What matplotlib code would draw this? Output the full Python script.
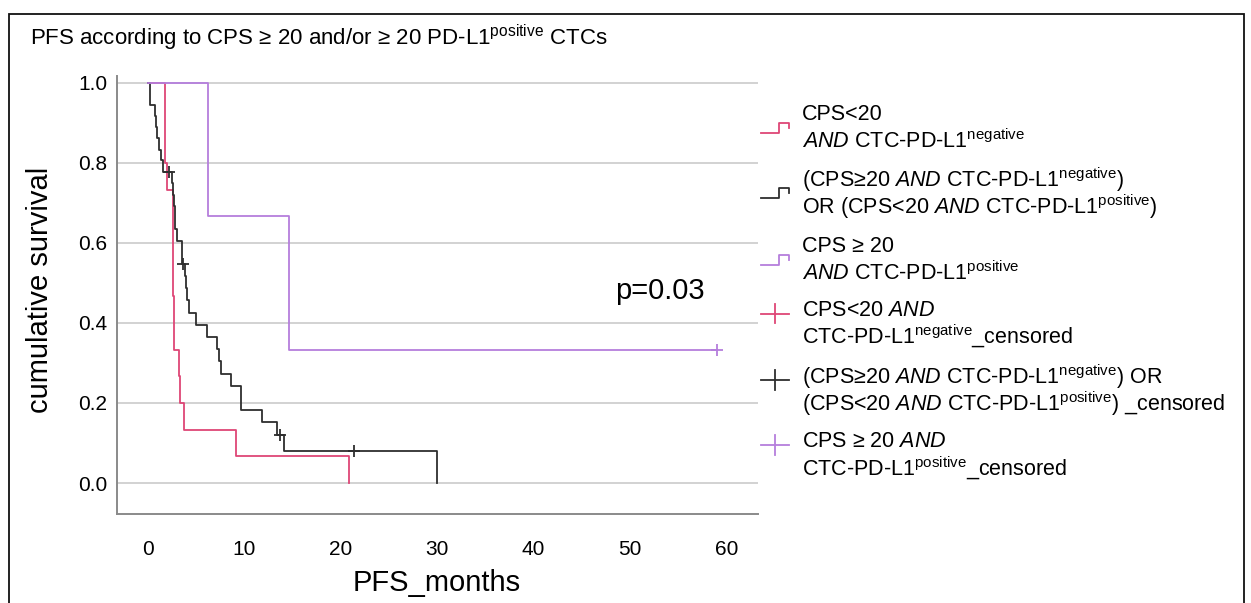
import matplotlib
matplotlib.use("Agg")
import matplotlib.pyplot as plt
from matplotlib.lines import Line2D
from matplotlib.patches import Rectangle

plt.rcParams['font.family'] = ['Liberation Sans', 'DejaVu Sans']
plt.rcParams['mathtext.fontset'] = 'custom'
plt.rcParams['mathtext.rm'] = 'Liberation Sans'
plt.rcParams['mathtext.it'] = 'Liberation Sans:italic'
plt.rcParams['mathtext.bf'] = 'Liberation Sans:bold'

# Kaplan-Meier step curves (time in months, survival)
red_t = [0, 1.77, 1.94, 2.55, 2.73, 3.25, 3.32, 3.77, 9.1, 20.9]
red_s = [1.0, 0.800, 0.733, 0.467, 0.333, 0.267, 0.200, 0.133, 0.067, 0.0]

black_t = [0, 0.2, 0.75, 0.85, 0.95, 1.1, 1.3, 1.55, 2.45, 2.6, 2.7, 2.8,
           2.85, 3.05, 3.5, 3.55, 3.85, 3.95, 4.05, 4.2, 5.0, 6.1, 7.15,
           7.4, 7.55, 8.6, 9.65, 11.8, 13.35, 14.15, 30.0]
black_s = [1.0, 0.944, 0.917, 0.889, 0.861, 0.833, 0.806, 0.778, 0.749,
           0.720, 0.691, 0.663, 0.634, 0.605, 0.576, 0.547, 0.517, 0.486,
           0.456, 0.425, 0.395, 0.365, 0.334, 0.304, 0.273, 0.243, 0.182,
           0.152, 0.121, 0.081, 0.0]

purple_t = [0, 6.2, 14.6, 59.0]
purple_s = [1.0, 0.667, 0.333, 0.333]

# censored observations
black_cens_t = [2.2, 3.6, 13.65, 21.4]
black_cens_s = [0.778, 0.547, 0.121, 0.081]
purple_cens_t = [59.0]
purple_cens_s = [0.333]

RED = '#de4676'
BLACK = '#2e2e2e'
PURPLE = '#b57edc'

yticks = [0.0, 0.2, 0.4, 0.6, 0.8, 1.0]
xticks = [0, 10, 20, 30, 40, 50, 60]

W, H = 1251, 603
fig = plt.figure(figsize=(W / 100, H / 100), dpi=100)
ax = fig.add_axes([117 / W, 1 - 514 / H, (758 - 117) / W, (514 - 76) / H])

for yv in yticks:
    ax.axhline(yv, color='#d2d2d2', lw=1.4, zorder=0)

ax.step(red_t, red_s, where='post', color=RED, lw=1.3)
ax.step(black_t, black_s, where='post', color=BLACK, lw=1.3)
ax.step(purple_t, purple_s, where='post', color=PURPLE, lw=1.3)
ax.plot(black_cens_t, black_cens_s, '+', color=BLACK, ms=9, mew=1.3)
ax.plot(purple_cens_t, purple_cens_s, '+', color=PURPLE, ms=9, mew=1.3)

ax.set_xlim(-3.22, 63.3)
ax.set_ylim(-0.0774, 1.0167)
ax.set_xticks(xticks)
ax.set_yticks(yticks)
ax.set_yticklabels([f'{v:.1f}' for v in yticks])
ax.tick_params(length=0, labelsize=15)
ax.tick_params(axis='x', pad=19)
ax.tick_params(axis='y', pad=7)
for side in ['top', 'right']:
    ax.spines[side].set_visible(False)
for side in ['left', 'bottom']:
    ax.spines[side].set_color('#8a8a8a')
    ax.spines[side].set_linewidth(1.4)

ax.text(48.5, 0.48, 'p=0.03', fontsize=21, va='center', ha='left')

fig.text(437 / W, 1 - 583 / H, 'PFS_months', fontsize=21,
         ha='center', va='center')
fig.text(40 / W, 1 - 290 / H, 'cumulative survival', fontsize=21,
         rotation=90, ha='center', va='center')
fig.text(30 / W, 1 - 38 / H,
         r'PFS according to CPS ≥ 20 and/or ≥ 20 PD-L1$^{\mathrm{positive}}$ CTCs',
         fontsize=16, ha='left', va='center')

# legend drawn by hand
legend_lines = [
    ('CPS<20', r'$\mathit{AND}$ CTC-PD-L1$^{\mathrm{negative}}$'),
    (r'(CPS≥20 $\mathit{AND}$ CTC-PD-L1$^{\mathrm{negative}}$)',
     r'OR (CPS<20 $\mathit{AND}$ CTC-PD-L1$^{\mathrm{positive}}$)'),
    ('CPS ≥ 20', r'$\mathit{AND}$ CTC-PD-L1$^{\mathrm{positive}}$'),
    (r'CPS<20 $\mathit{AND}$', r'CTC-PD-L1$^{\mathrm{negative}}$_censored'),
    (r'(CPS≥20 $\mathit{AND}$ CTC-PD-L1$^{\mathrm{negative}}$) OR',
     r'(CPS<20 $\mathit{AND}$ CTC-PD-L1$^{\mathrm{positive}}$) _censored'),
    (r'CPS ≥ 20 $\mathit{AND}$', r'CTC-PD-L1$^{\mathrm{positive}}$_censored'),
]
legend_colors = [RED, BLACK, PURPLE, RED, BLACK, PURPLE]
legend_y = [115, 180, 246.7, 310, 376.7, 441.7]
gap = 26.7


def fx(px):
    return px / W


def fy(py):
    return 1 - py / H


for i, (l1, l2) in enumerate(legend_lines):
    y0 = legend_y[i]
    fig.text(fx(802), fy(y0), l1, fontsize=15.5, va='center', ha='left')
    fig.text(fx(802), fy(y0 + gap), l2, fontsize=15.5, va='center', ha='left')
    c = legend_colors[i]
    if i < 3:
        lo = y0 + 18
        hi = y0 + 8
        xs = [761, 779, 779, 789, 789]
        ys = [lo, lo, hi, hi, hi + 5]
        fig.add_artist(Line2D([fx(v) for v in xs], [fy(v) for v in ys],
                              color=c, lw=1.3))
    else:
        yc = y0 + 3.5
        fig.add_artist(Line2D([fx(761), fx(789)], [fy(yc), fy(yc)],
                              color=c, lw=1.3))
        fig.add_artist(Line2D([fx(775), fx(775)], [fy(yc - 10), fy(yc + 10)],
                              color=c, lw=1.3))

fig.add_artist(Rectangle((fx(9), fy(640)), fx(1244) - fx(9), fy(14) - fy(640),
                         fill=False, edgecolor='#111111', lw=1.3))

fig.savefig('out.png', dpi=100)
